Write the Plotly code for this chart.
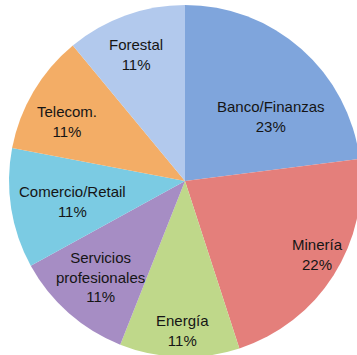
import math
import plotly.graph_objects as go

# Share of clients by industry
sectors = ["Banco/Finanzas", "Minería", "Energía", "Servicios<br>profesionales",
           "Comercio/Retail", "Telecom.", "Forestal"]
shares = [23, 22, 11, 11, 11, 11, 11]

colors = ["#7fa5dc", "#e47f7b", "#bfd88a", "#a68dc4", "#7bcbe3", "#f3ad66", "#b2c9ed"]

# label placement: angular nudge from the slice bisector (deg) and radial fraction
label_nudge = [11.5, -3.5, -1.0, 0.0, -1.5, -4.0, -1.5]
label_radius = [0.61, 0.86, 0.85, 0.73, 0.65, 0.75, 0.77]

W, H = 362, 358
cx, cy, R = 185, 181, 176  # pixel centre / radius of the pie

fig = go.Figure(go.Pie(
    labels=sectors,
    values=shares,
    sort=False,
    direction="clockwise",
    rotation=0,
    marker=dict(colors=colors, line=dict(width=0)),
    textinfo="none",
    hoverinfo="label+percent",
    domain=dict(x=[(cx - R) / W, (cx + R) / W],
                y=[(H - cy - R) / H, (H - cy + R) / H]),
    showlegend=False,
))

total = sum(shares)
start = 0.0
annotations = []
for name, v, nudge, rf in zip(sectors, shares, label_nudge, label_radius):
    span = v / total * 360.0
    theta = math.radians(start + span / 2 + nudge)
    start += span
    px = cx + rf * R * math.sin(theta)
    py = cy - rf * R * math.cos(theta)
    annotations.append(dict(
        x=px / W, y=(H - py) / H, xref="paper", yref="paper",
        text=f"{name}<br>{round(v / total * 100)}%",
        showarrow=False, xanchor="center", yanchor="middle",
        font=dict(family="Liberation Sans, Arial, sans-serif", size=15, color="#151515"),
    ))

fig.update_layout(
    width=W, height=H,
    margin=dict(l=0, r=0, t=0, b=0),
    paper_bgcolor="white",
    plot_bgcolor="white",
    annotations=annotations,
)

fig.write_html(
    "out.html",
    config={"displayModeBar": False},
    post_script="document.documentElement.style.overflow='hidden';"
                "document.body.style.overflow='hidden';document.body.style.margin='0';",
)
